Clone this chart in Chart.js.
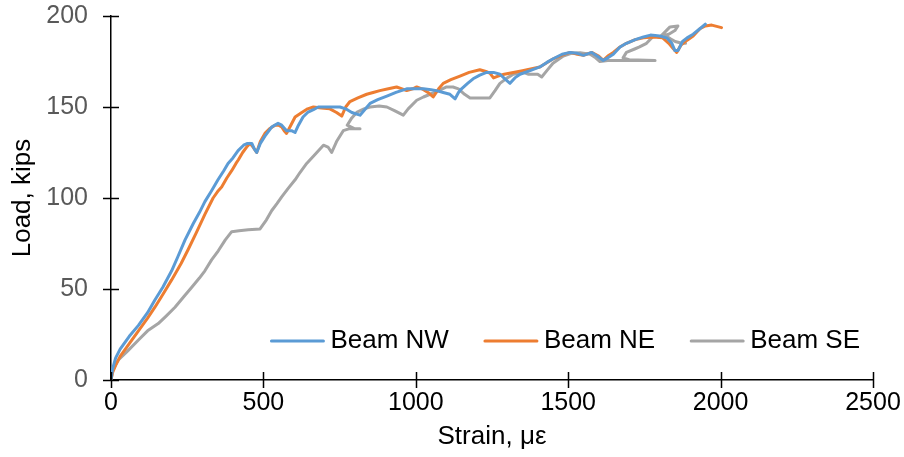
<!DOCTYPE html>
<html><head><meta charset="utf-8">
<script src="https://cdn.jsdelivr.net/npm/chart.js@4/dist/chart.umd.min.js"></script>
<style>html,body{margin:0;padding:0;background:#fff;}#wrap{width:904px;height:457px;position:relative;}</style>
</head><body><div id="wrap"><canvas id="c" width="904" height="457"></canvas></div>
<script>
const seriesNames = ['Beam NW', 'Beam NE', 'Beam SE'];
const xTicks = [0, 500, 1000, 1500, 2000, 2500];
const yTicks = [0, 50, 100, 150, 200];

const nwStrain = [0,5,15,30,60,90,120,144,170,199,220,243,270,290,308,330,351,370,384,400,417,435,448,462,470,478,490,505,527,548,560,576,592,604,615,630,645,664,680,708,730,751,770,790,817,835,850,875,905,935,970,1000,1025,1050,1068,1090,1112,1129,1140,1150,1170,1188,1210,1232,1255,1276,1295,1309,1325,1342,1375,1407,1430,1451,1480,1506,1530,1550,1577,1595,1615,1630,1648,1670,1691,1720,1747,1770,1800,1823,1840,1850,1860,1875,1890,1910,1932,1950];
const nwLoad   = [0,6,12,17,24,30,37,44,51,60,68,77,86,92,98,104,110,115,119,122,126,129,130,130,127,125,130,134,139,141,140,137,137,136,140,144.5,147,148.5,150,150,150,150,149,147,145.5,149,152,154,156,158,160,160,160,159.5,159,158,157,154.5,158,160,163,165.5,167.5,169,169,168,165,163,166,168,170,172,174.5,176.5,179,180,179.5,178.4,180,178,175.6,177,179,183,185,187,188.5,189.5,189,188,185,181,181,186,188,190,193,195.5];

const neStrain = [0,5,15,30,60,90,120,144,170,199,230,254,280,308,335,352,363,380,396,410,418,432,445,456,466,478,490,505,520,538,550,560,568,576,590,604,626,645,664,690,718,740,757,770,784,810,839,860,882,910,937,955,970,990,1003,1020,1040,1057,1075,1090,1115,1145,1175,1210,1230,1243,1255,1270,1290,1320,1350,1407,1451,1480,1506,1530,1550,1577,1600,1615,1630,1648,1670,1691,1720,1747,1780,1810,1830,1845,1856,1870,1889,1910,1932,1950,1971,2003];
const neLoad   = [0,4,8,13,20,27,34,40,47,55,64,72,81,91,100,104,106,111,115,119,121,125,128,130,128,125,131,135.5,138,140,140,139,137,135.5,140,144.5,147,149,150,149.5,149,147,145,150,153,155,157,158,159,160,161,160,159,160,161,160,158,155.5,160,163,165,167,169,170.5,169.5,168.6,166,167,168,169,170,172,176.5,178.5,180,179,178.4,180,178,175.6,178,180,183,185,187,188,188.5,188,185,182,180,184,186.6,189,193,194.5,195,193.6];

const seStrain = [0,5,24,55,90,120,155,180,210,240,265,290,308,330,352,375,396,420,450,489,510,527,545,560,580,604,620,642,670,697,712,724,740,762,780,805,817,800,775,790,806,830,850,880,905,930,959,975,1003,1025,1047,1075,1101,1122,1140,1160,1178,1210,1243,1260,1276,1300,1320,1353,1370,1400,1413,1430,1450,1484,1510,1539,1572,1590,1604,1630,1659,1700,1785,1700,1680,1691,1720,1734,1757,1780,1801,1834,1860,1850,1830,1818,1840,1851,1873,1885];
const seLoad   = [0,5,11,16,22,27,31,35,40,46,51,56,60,66,71,77,81.5,82,82.5,83,88,93,97,100.6,105,110,114,119,124,129,128,125,131,137,138,138,138,138,140,144,147,149,150,150.5,150,148,145.5,149,153.7,155.5,157,159,161,161,160,157,155,155,155,159,163,166,168,169,168,168,166.5,170,174,178,179.5,179.8,179,177,175,175.5,175.6,175.6,175.6,176,177,180,182,183,185,189,188.4,194,194.5,192,190,189.4,187,186,185,185];

const colors = ['#5B9BD5', '#ED7D31', '#A5A5A5'];
const FONT = '"Liberation Sans", Arial, sans-serif';

function pts(xs, ys) { return xs.map((x, i) => ({ x: x, y: ys[i] })); }

const crossTicks = {
  id: 'crossTicks',
  afterDraw(chart) {
    const ctx = chart.ctx, xs = chart.scales.x, ys = chart.scales.y;
    const a = chart.chartArea;
    ctx.save();
    ctx.strokeStyle = '#000';
    ctx.lineWidth = 1.5;
    ctx.beginPath();
    xTicks.forEach(v => { const p = Math.round(xs.getPixelForValue(v)) + 0.5; ctx.moveTo(p, a.bottom - 8); ctx.lineTo(p, a.bottom + 8); });
    yTicks.forEach(v => { const p = Math.round(ys.getPixelForValue(v)) + 0.5; ctx.moveTo(a.left - 8, p); ctx.lineTo(a.left + 8, p); });
    ctx.stroke();
    ctx.restore();
  }
};

const customLegend = {
  id: 'customLegend',
  afterDraw(chart) {
    const ctx = chart.ctx, a = chart.chartArea;
    ctx.save();
    ctx.font = '26px ' + FONT;
    ctx.textBaseline = 'middle';
    const lineLen = 54, gap = 6, itemGap = 35;
    const items = chart.data.datasets.map(d => ({ label: d.label, color: d.borderColor, w: ctx.measureText(d.label).width }));
    let total = items.reduce((s, it) => s + lineLen + gap + it.w, 0) + itemGap * (items.length - 1);
    let x = a.right - 13 - total;
    const y = a.bottom - 39;
    items.forEach(it => {
      ctx.strokeStyle = it.color; ctx.lineWidth = 3; ctx.lineCap = 'round';
      ctx.beginPath(); ctx.moveTo(x + 1, y); ctx.lineTo(x + lineLen - 1, y); ctx.stroke();
      ctx.fillStyle = '#000';
      ctx.fillText(it.label, x + lineLen + gap, y);
      x += lineLen + gap + it.w + itemGap;
    });
    ctx.restore();
  }
};

new Chart(document.getElementById('c'), {
  type: 'scatter',
  data: {
    datasets: [
      { label: seriesNames[0], data: pts(nwStrain, nwLoad), borderColor: colors[0] },
      { label: seriesNames[1], data: pts(neStrain, neLoad), borderColor: colors[1] },
      { label: seriesNames[2], data: pts(seStrain, seLoad), borderColor: colors[2] }
    ].map(d => Object.assign(d, { showLine: true, pointRadius: 0, borderWidth: 3, tension: 0, borderCapStyle: 'round', borderJoinStyle: 'round', backgroundColor: d.borderColor }))
  },
  options: {
    responsive: false,
    devicePixelRatio: 1,
    animation: false,
    layout: { padding: { top: 16, right: 31, left: 0, bottom: 0 } },
    plugins: { legend: { display: false }, tooltip: { enabled: false } },
    scales: {
      x: {
        type: 'linear', min: 0, max: 2500,
        afterBuildTicks: s => { s.ticks = xTicks.map(v => ({ value: v })); },
        afterFit: s => { s.height = 77; },
        grid: { display: false, drawTicks: true, tickLength: 8 },
        border: { display: true, color: '#000', width: 1.5 },
        ticks: { color: '#000', font: { family: FONT, size: 25 }, padding: 0, maxRotation: 0, callback: v => String(v) },
        title: { display: true, text: 'Strain, με', color: '#000', font: { family: FONT, size: 26 }, padding: { top: 0, bottom: 5 } }
      },
      y: {
        type: 'linear', min: 0, max: 200,
        afterBuildTicks: s => { s.ticks = yTicks.map(v => ({ value: v })); },
        afterFit: s => { s.width = 111; },
        grid: { display: false, drawTicks: true, tickLength: 23 },
        border: { display: true, color: '#000', width: 1.5 },
        ticks: { color: '#595959', font: { family: FONT, size: 25 }, padding: 0, callback: v => String(v) },
        title: { display: true, text: 'Load, kips', color: '#000', font: { family: FONT, size: 26 }, padding: { top: 7, bottom: 0 } }
      }
    }
  },
  plugins: [crossTicks, customLegend]
});
</script></body></html>
